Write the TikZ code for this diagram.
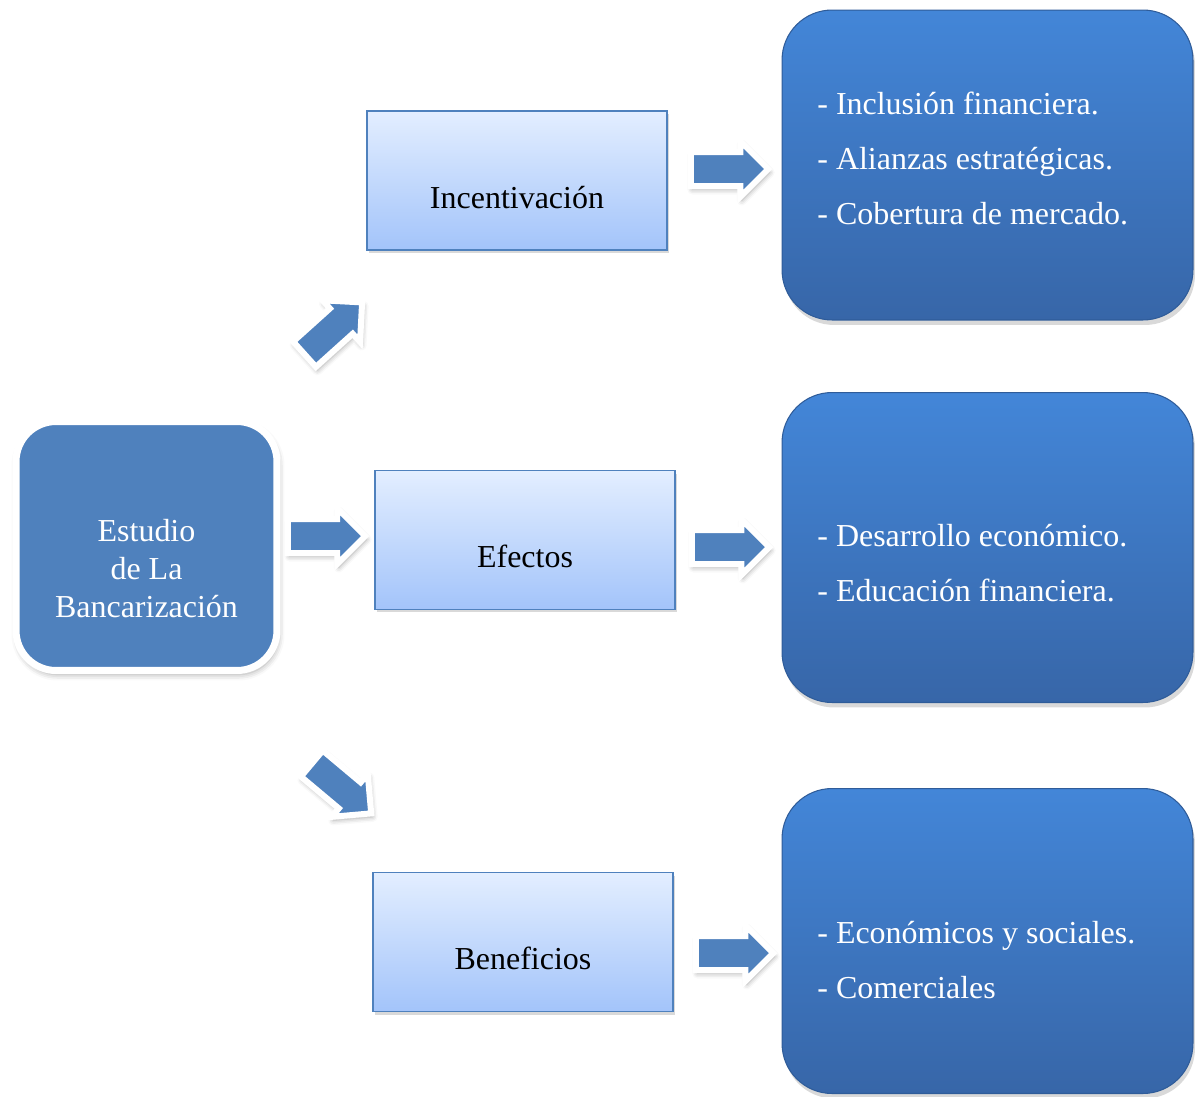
\documentclass[tikz,border=0pt]{standalone}
\usepackage{fontspec}
\setmainfont{Liberation Serif}
\usetikzlibrary{shapes.arrows,shadows,shadows.blur}
\definecolor{softblue}{HTML}{4F81BD}
\definecolor{paletop}{HTML}{E3EEFF}
\definecolor{palebot}{HTML}{A3C4FA}
\definecolor{deeptop}{HTML}{4386D8}
\definecolor{deepbot}{HTML}{3766A8}
\definecolor{deepline}{HTML}{2F5C99}
\tikzset{
	mainbox/.style={rectangle, rounded corners=0.8cm, fill=softblue, draw=white, line width=0.14cm,
		minimum width=5.22cm, minimum height=4.98cm,
		blur shadow={shadow xshift=0.03cm, shadow yshift=-0.08cm, shadow blur radius=0.12cm, shadow opacity=35}},
	maintext/.style={text=white, align=center, inner sep=0pt, font=\fontsize{18.2}{21.6}\selectfont},
	topicbox/.style={rectangle, draw=softblue, line width=0.8pt, top color=paletop, bottom color=palebot,
		minimum width=6cm, minimum height=2.78cm, text height=1.1cm, text depth=0cm,
		font=\fontsize{18.2}{21.6}\selectfont, drop shadow={opacity=0.3, shadow xshift=0.04cm, shadow yshift=-0.06cm}},
	listbox/.style={rectangle, rounded corners=1cm, draw=deepline, line width=0.6pt, top color=deeptop, bottom color=deepbot,
		minimum width=8.22cm, minimum height=6.2cm, drop shadow={opacity=0.3, shadow xshift=0.04cm, shadow yshift=-0.1cm}},
	listtext/.style={anchor=west, inner sep=0pt, text=white, align=left, font=\fontsize{18.2}{31.3}\selectfont},
	blockarrow/.style={single arrow, fill=softblue, draw=white, line width=0.12cm, inner xsep=0pt, inner ysep=0.28cm,
		single arrow head extend=0.22cm, minimum height=1.55cm,
		blur shadow={shadow xshift=0.03cm, shadow yshift=-0.07cm, shadow blur radius=0.1cm, shadow opacity=35}}
}
\begin{document}
\begin{tikzpicture}[x=0.02cm, y=-0.02cm]
	\useasboundingbox (0,0) rectangle (1200,1096);

	\node[mainbox] (estudio) at (146.5,546) {};
	\node[maintext] (estudioT) at (146.5,569) {Estudio\\de La\\Bancarización};

	\node[topicbox] (incent) at (517,180.5) {Incentivación};
	\node[topicbox] (efectos) at (525,540) {Efectos};
	\node[topicbox] (benef) at (523,942) {Beneficios};

	\node[listbox] (lista1) at (987.5,165) {};
	\node[listbox] (lista2) at (987.5,547.5) {};
	\node[listbox, minimum height=6.1cm] (lista3) at (987.5,941) {};

	\node[listtext] (texto1) at (817,158) {- Inclusión financiera.\\- Alianzas estratégicas.\\- Cobertura de mercado.};
	\node[listtext] (texto2) at (817,563.5) {- Desarrollo económico.\\- Educación financiera.};
	\node[listtext] (texto3) at (817,960) {- Económicos y sociales.\\- Comerciales};

	% flechas
	\node[blockarrow, rotate=42] (flechaA) at (327,334) {};
	\node[blockarrow] (flechaB) at (318,536) {};
	\node[blockarrow, rotate=-40] (flechaC) at (335,783) {};
	\node[blockarrow] (flecha1) at (721,169) {};
	\node[blockarrow] (flecha2) at (722,547) {};
	\node[blockarrow] (flecha3) at (726,953) {};
\end{tikzpicture}
\end{document}
